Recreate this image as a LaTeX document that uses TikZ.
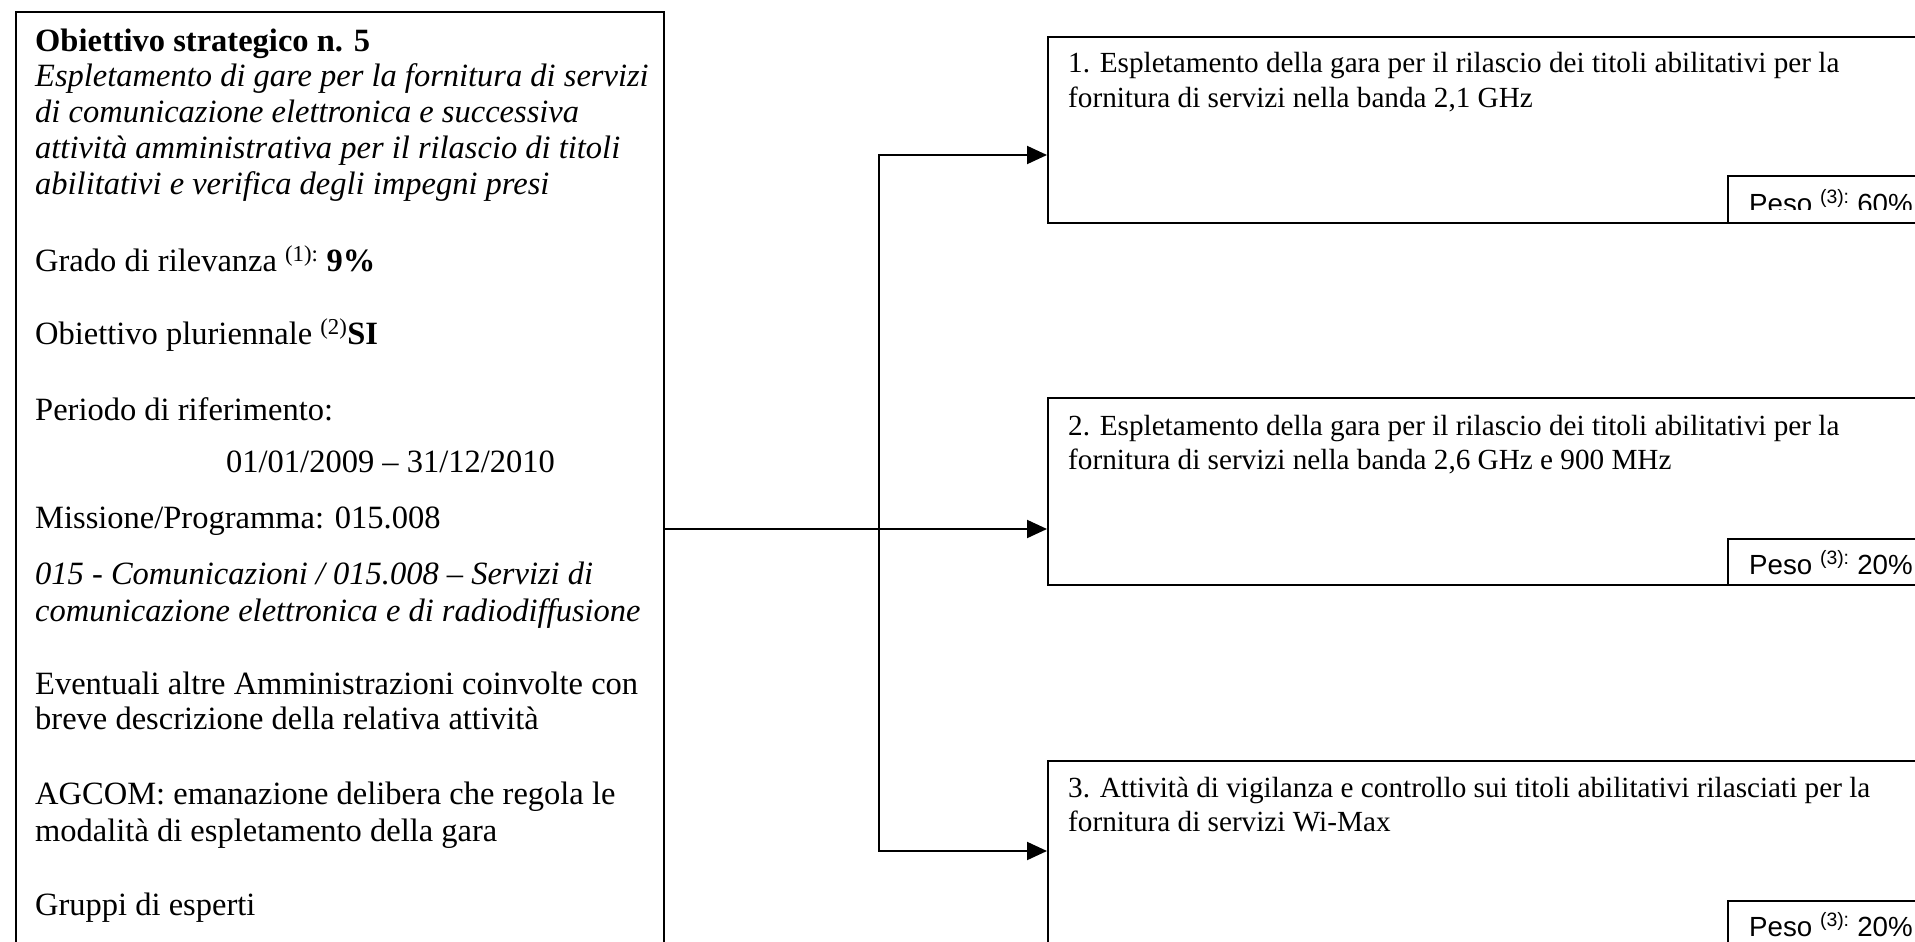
\documentclass[tikz,border=0pt]{standalone}
\usepackage{fontspec}
\setmainfont{Liberation Serif}
\newfontfamily\pesofont{Liberation Sans}
\usetikzlibrary{positioning, arrows.meta}

\tikzset{
  frame/.style={draw, line width=2pt, rectangle, inner sep=0pt, anchor=north west},
  textline/.style={anchor=base west, inner sep=0pt, font=\fontsize{32.5}{36}\selectfont},
  actline/.style={anchor=base west, inner sep=0pt, font=\fontsize{29.2}{34}\selectfont},
  pesotext/.style={anchor=base west, inner sep=0pt, font=\pesofont\fontsize{27.7}{32}\selectfont},
  wire/.style={line width=2pt},
  arr/.style={wire, -{Triangle[length=20pt,width=18pt]}}
}

\begin{document}
\begin{tikzpicture}[x=1pt, y=-1pt]
  \useasboundingbox (0,0) rectangle (1915,942);

  % Strategic objective
  \node[frame, minimum width=648pt, minimum height=990pt] (obj) at (15,11) {};
  \node[textline] (title) at (35,52) {\textbf{Obiettivo strategico n. 5}};
  \node[textline] (descr1) at (35,87) {\textit{Espletamento di gare per la fornitura di servizi}};
  \node[textline] (descr2) at (35,122) {\textit{di comunicazione elettronica e successiva}};
  \node[textline] (descr3) at (35,158) {\textit{attività amministrativa per il rilascio di titoli}};
  \node[textline] (descr4) at (35,194) {\textit{abilitativi e verifica degli impegni presi}};
  \node[textline] (grado) at (35,271) {Grado di rilevanza \textsuperscript{(1):} \textbf{9\%}};
  \node[textline] (plur) at (35,344) {Obiettivo pluriennale \textsuperscript{(2)}\textbf{SI}};
  \node[textline] (periodo) at (35,420) {Periodo di riferimento:};
  \node[textline] (date) at (226,472) {01/01/2009 – 31/12/2010};
  \node[textline] (missione) at (35,528) {Missione/Programma: 015.008};
  \node[textline] (progr1) at (35,584) {\textit{015 - Comunicazioni / 015.008 – Servizi di}};
  \node[textline] (progr2) at (35,621) {\textit{comunicazione elettronica e di radiodiffusione}};
  \node[textline] (altre1) at (35,694) {Eventuali altre Amministrazioni coinvolte con};
  \node[textline] (altre2) at (35,729) {breve descrizione della relativa attività};
  \node[textline] (agcom1) at (35,804) {AGCOM: emanazione delibera che regola le};
  \node[textline] (agcom2) at (35,841) {modalità di espletamento della gara};
  \node[textline] (gruppi) at (35,915) {Gruppi di esperti};

  % Operational objectives
  \node[frame, minimum width=913pt, minimum height=186pt] (act1) at (1047,36) {};
  \node[frame, minimum width=300pt, minimum height=47pt] (peso1) at (1727,175) {};
  \node[actline] (act1a) at (1068,73) {1. Espletamento della gara per il rilascio dei titoli abilitativi per la};
  \node[actline] (act1b) at (1068,107) {fornitura di servizi nella banda 2,1 GHz};
  \begin{scope}
    \clip (1727,175) rectangle (1915,209);
    \node[pesotext] (weight1) at (1749,213) {Peso \textsuperscript{(3):} 60\%};
  \end{scope}

  \node[frame, minimum width=913pt, minimum height=187pt] (act2) at (1047,397) {};
  \node[frame, minimum width=300pt, minimum height=46pt] (peso2) at (1727,538) {};
  \node[actline] (act2a) at (1068,435) {2. Espletamento della gara per il rilascio dei titoli abilitativi per la};
  \node[actline] (act2b) at (1068,469) {fornitura di servizi nella banda 2,6 GHz e 900 MHz};
  \node[pesotext] (weight2) at (1749,574) {Peso \textsuperscript{(3):} 20\%};

  \node[frame, minimum width=913pt, minimum height=240pt] (act3) at (1047,760) {};
  \node[frame, minimum width=300pt, minimum height=100pt] (peso3) at (1727,900) {};
  \node[actline] (act3a) at (1068,797) {3. Attività di vigilanza e controllo sui titoli abilitativi rilasciati per la};
  \node[actline] (act3b) at (1068,831) {fornitura di servizi Wi-Max};
  \node[pesotext] (weight3) at (1749,936) {Peso \textsuperscript{(3):} 20\%};

  % Connectors
  \coordinate (split) at (879,529);
  \coordinate (in1) at (act1.west |- 0,155);
  \coordinate (in2) at (act2.west |- 0,529);
  \coordinate (in3) at (act3.west |- 0,851);
  \draw[wire] (obj.east |- split) -- (split);
  \draw[arr] (split) |- (in1);
  \draw[arr] (split) -- (in2);
  \draw[arr] (split) |- (in3);
\end{tikzpicture}
\end{document}
